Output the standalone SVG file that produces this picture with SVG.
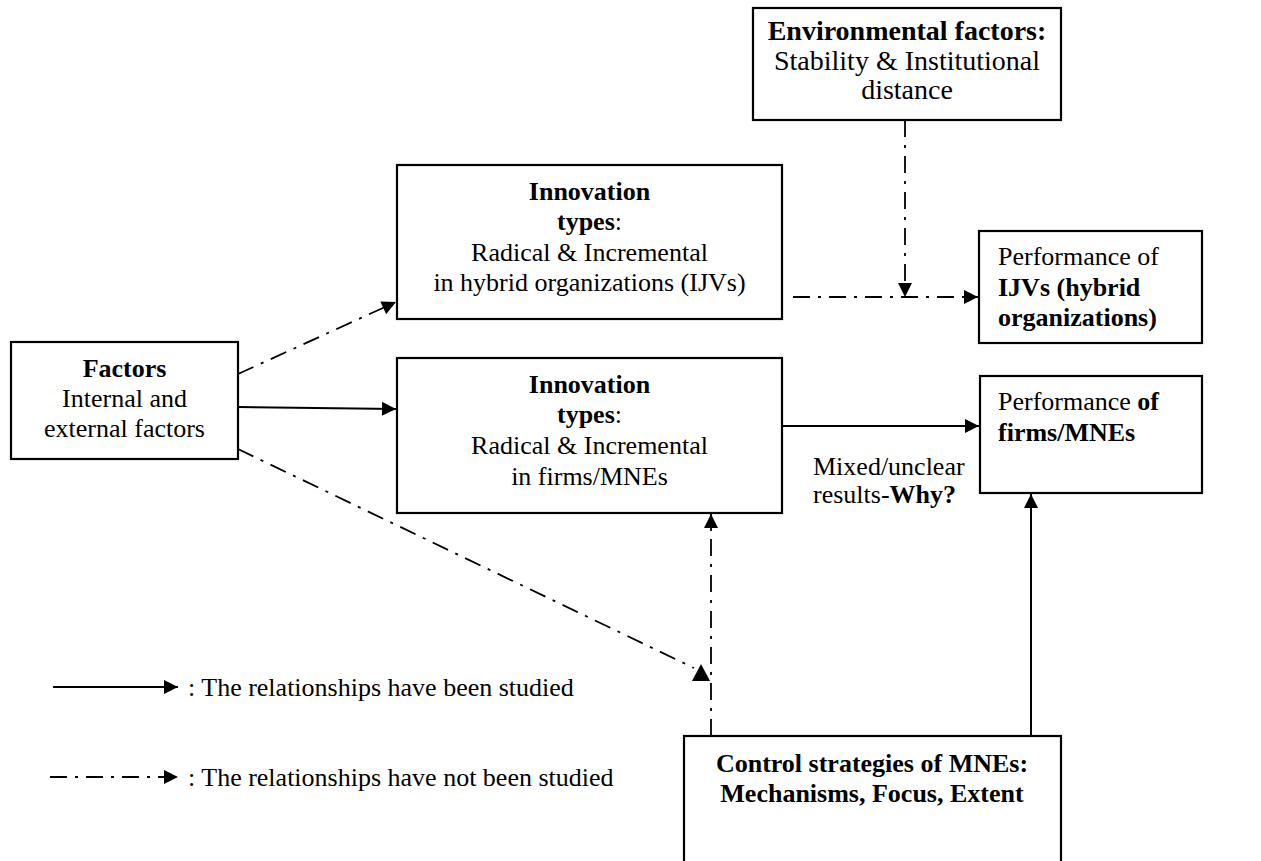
<svg xmlns="http://www.w3.org/2000/svg" width="1261" height="861" viewBox="0 0 1261 861">
<style>
  .box { fill: #ffffff; stroke: #000000; stroke-width: 2.2; }
  .t { font-family: "Liberation Serif", "Times New Roman", serif; font-size: 26px; fill: #000000; }
  .big { font-size: 28px; }
  .c { text-anchor: middle; }
  .b { font-weight: bold; }
  .solid { fill: none; stroke: #000000; stroke-width: 2; }
  .dash { fill: none; stroke: #000000; stroke-width: 1.8; stroke-dasharray: 17 8 3 8; }
</style>
<defs>
  <marker id="arr" viewBox="0 0 10 10" refX="10" refY="5" markerWidth="15" markerHeight="14" markerUnits="userSpaceOnUse" orient="auto">
    <path d="M0,0 L10,5 L0,10 z" fill="#000000"/>
  </marker>
</defs>
<rect width="1261" height="861" fill="#ffffff"/>

<g id="connectors">
  <line class="dash" x1="238" y1="374" x2="396" y2="302" marker-end="url(#arr)"/>
  <line class="solid" x1="238" y1="407" x2="396" y2="409" marker-end="url(#arr)"/>
  <line class="dash" x1="238" y1="449" x2="694" y2="668"/>
  <polygon points="701,664 692,681 710,681" fill="#000000"/>
  <line class="dash" x1="711" y1="736" x2="711" y2="514" marker-end="url(#arr)"/>
  <line class="dash" x1="905" y1="120" x2="905" y2="297" marker-end="url(#arr)"/>
  <line class="dash" x1="793" y1="297" x2="978" y2="297" marker-end="url(#arr)"/>
  <line class="solid" x1="782" y1="426" x2="979" y2="426" marker-end="url(#arr)"/>
  <line class="solid" x1="1031" y1="736" x2="1031" y2="494" marker-end="url(#arr)"/>
  <line class="solid" x1="53" y1="687" x2="178" y2="687" marker-end="url(#arr)"/>
  <line class="dash" x1="50" y1="777" x2="178" y2="777" marker-end="url(#arr)"/>
</g>

<g id="env">
  <rect class="box" x="753" y="8" width="308" height="112"/>
  <text class="t big c b" x="907" y="40">Environmental factors:</text>
  <text class="t big c" x="907" y="70">Stability &amp; Institutional</text>
  <text class="t big c" x="907" y="99">distance</text>
</g>

<g id="innov-ijv">
  <rect class="box" x="397" y="165" width="385" height="154"/>
  <text class="t c b" x="589.5" y="200">Innovation</text>
  <text class="t c" x="589.5" y="230"><tspan class="b">types</tspan>:</text>
  <text class="t c" x="589.5" y="261">Radical &amp; Incremental</text>
  <text class="t c" x="589.5" y="291">in hybrid organizations (IJVs)</text>
</g>

<g id="factors">
  <rect class="box" x="11" y="342" width="227" height="117"/>
  <text class="t c b" x="124.5" y="377">Factors</text>
  <text class="t c" x="124.5" y="407">Internal and</text>
  <text class="t c" x="124.5" y="437">external factors</text>
</g>

<g id="innov-firms">
  <rect class="box" x="397" y="358" width="385" height="155"/>
  <text class="t c b" x="589.5" y="393">Innovation</text>
  <text class="t c" x="589.5" y="423"><tspan class="b">types</tspan>:</text>
  <text class="t c" x="589.5" y="454">Radical &amp; Incremental</text>
  <text class="t c" x="589.5" y="485">in firms/MNEs</text>
</g>

<g id="perf-ijv">
  <rect class="box" x="979" y="231" width="223" height="112"/>
  <text class="t" x="998" y="265">Performance of</text>
  <text class="t b" x="998" y="296">IJVs (hybrid</text>
  <text class="t b" x="998" y="326">organizations)</text>
</g>

<g id="perf-firms">
  <rect class="box" x="980" y="376" width="222" height="117"/>
  <text class="t" x="998" y="410">Performance <tspan class="b">of</tspan></text>
  <text class="t b" x="998" y="441">firms/MNEs</text>
</g>

<g id="mixed-label">
  <text class="t" x="813" y="475">Mixed/unclear</text>
  <text class="t" x="813" y="503">results-<tspan class="b">Why?</tspan></text>
</g>

<g id="control">
  <rect class="box" x="684" y="736" width="377" height="140"/>
  <text class="t c b" x="872" y="772">Control strategies of MNEs:</text>
  <text class="t c b" x="872" y="802">Mechanisms, Focus, Extent</text>
</g>

<g id="legend">
  <text class="t" x="188" y="696">: The relationships have been studied</text>
  <text class="t" x="188" y="786">: The relationships have not been studied</text>
</g>
</svg>
